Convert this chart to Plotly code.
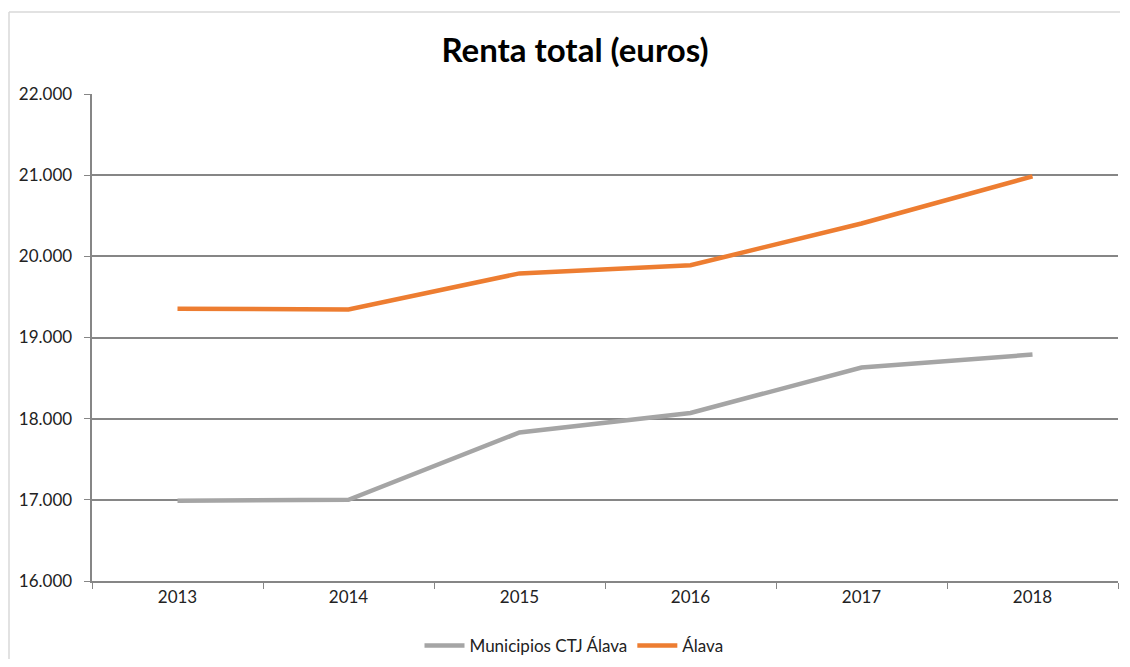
import plotly.graph_objects as go

years = ["2013", "2014", "2015", "2016", "2017", "2018"]
municipios = [16990, 17000, 17830, 18070, 18630, 18790]
alava = [19355, 19345, 19790, 19890, 20405, 20985]

# page has an 8px body margin; figure coordinates = page coordinates - 8
OFF = 8
W, H = 1130 - 2 * OFF, 667 - 2 * OFF
L, R, T, B = 92 - OFF, 1118 - OFF, 94 - OFF, 581 - OFF
pw = R - L
ph = B - T
FONT = "Lato, 'Open Sans', sans-serif"

fig = go.Figure()
fig.add_trace(go.Scatter(x=years, y=municipios, mode="lines", name="Municipios CTJ Álava",
                         line=dict(color="#A5A5A5", width=4.5)))
fig.add_trace(go.Scatter(x=years, y=alava, mode="lines", name="Álava",
                         line=dict(color="#ED7D31", width=4.5)))

fig.update_layout(
    width=W, height=H,
    margin=dict(l=L, r=W - R, t=T, b=H - B, autoexpand=False),
    paper_bgcolor="white", plot_bgcolor="white",
    separators=",.",
    font=dict(family=FONT, size=17, color="#222"),
    title=dict(text="<b>Renta total (euros)</b>", xref="container", x=(575 - OFF) / W,
               xanchor="center", y=1 - (50 - OFF) / H, yanchor="middle",
               font=dict(size=33, color="black", family=FONT)),
    xaxis=dict(type="category", range=[-0.5, 5.5], showgrid=False,
               showline=True, linecolor="#868686", linewidth=1.5,
               ticks="outside", tickson="boundaries", ticklen=6, tickcolor="#868686",
               tickfont=dict(size=17, color="#222"),
               automargin=False),
    yaxis=dict(range=[16000, 22000], dtick=1000, tickformat=",.0f",
               ticksuffix="\u00a0\u00a0",
               showgrid=True, gridcolor="#868686", gridwidth=1.5,
               showline=True, linecolor="#868686", linewidth=1.5,
               ticks="outside", ticklen=6, tickcolor="#868686", zeroline=False,
               tickfont=dict(size=17, color="#222"),
               automargin=False),
    legend=dict(orientation="h", x=((574 - OFF) - L) / pw, xanchor="center",
                y=-((646 - OFF) - B) / ph, yanchor="middle",
                font=dict(size=17, color="#222"), itemwidth=40, tracegroupgap=0),
    showlegend=True,
)

# chart area border (left and top)
bx = (9 - OFF - L) / pw
by = (B - (12 - OFF)) / ph
fig.add_shape(type="line", xref="paper", yref="paper",
              x0=bx, x1=bx, y0=by, y1=-(H - B) / ph,
              line=dict(color="#D9D9D9", width=1.5))
fig.add_shape(type="line", xref="paper", yref="paper",
              x0=bx, x1=(W - 2 - L) / pw, y0=by, y1=by,
              line=dict(color="#D9D9D9", width=1.5))

fig.write_html("out.html")
